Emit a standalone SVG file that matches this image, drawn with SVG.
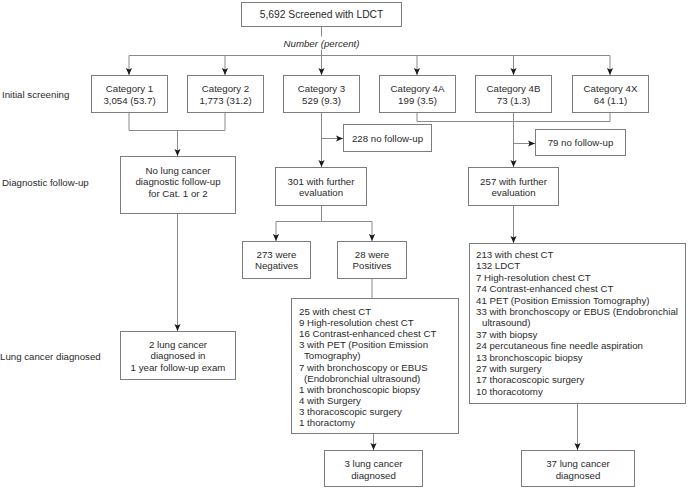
<svg xmlns="http://www.w3.org/2000/svg" width="688" height="488" viewBox="0 0 688 488">
<defs>
<marker id="ah" viewBox="0 0 8 8" refX="8" refY="4" markerWidth="7" markerHeight="7" orient="auto" markerUnits="userSpaceOnUse">
<path d="M0,0.5 L8,4 L0,7.5 L1.8,4 z" fill="#1a1a1a"/>
</marker>
<style>
rect{fill:#fff;stroke:#7d7d7d;stroke-width:1}
text{font-family:"Liberation Sans",Arial,Helvetica,sans-serif;font-size:9.7px;fill:#2a2a2a}
.c{text-anchor:middle}
.i{font-style:italic}
.t{font-size:10.3px}
#connectors path{fill:none;stroke:#8a8a8a;stroke-width:1}
.a{marker-end:url(#ah)}
</style>
</defs>
<rect x="0" y="0" width="688" height="488" style="fill:#fff;stroke:none"/>

<g id="labels">
<text x="2" y="97.5">Initial screening</text>
<text x="2" y="185.5">Diagnostic follow-up</text>
<text x="0" y="359.5">Lung cancer diagnosed</text>
<text class="c i" x="321.5" y="46.5">Number (percent)</text>
</g>

<g id="connectors">
<path d="M321.5,26 V36.5"/>
<path d="M321.5,49.5 V55.5"/>
<path d="M129,55.5 H610"/>
<path class="a" d="M129,55.5 V75"/>
<path class="a" d="M225,55.5 V75"/>
<path class="a" d="M321.5,55.5 V75"/>
<path class="a" d="M417,55.5 V75"/>
<path class="a" d="M513.5,55.5 V75"/>
<path class="a" d="M610,55.5 V75"/>
<path d="M129,112 V130.5 H225 V112"/>
<path class="a" d="M177.5,130.5 V156"/>
<path class="a" d="M321.5,112 V167"/>
<path class="a" d="M321.5,138.5 H343"/>
<path d="M417,112 V121.5 H610 V112"/>
<path class="a" d="M513.5,112 V167"/>
<path class="a" d="M513.5,143.5 H535"/>
<path class="a" d="M177.5,213 V331"/>
<path d="M321.5,205 V221.5"/>
<path class="a" d="M321.5,221.5 H276 V241"/>
<path class="a" d="M321.5,221.5 H372 V241"/>
<path d="M372,278 V298"/>
<path class="a" d="M373.5,433 V450"/>
<path class="a" d="M513.5,205 V243"/>
<path class="a" d="M577.5,403 V450"/>
</g>

<g id="n-top"><rect x="241.5" y="2.5" width="160" height="24"/><text class="c t" x="321.5" y="18">5,692 Screened with LDCT</text></g>

<g id="n-cat1"><rect x="91.5" y="75.5" width="76" height="37"/><text class="c" x="129.5" y="91.5">Category 1</text><text class="c" x="129.5" y="104">3,054 (53.7)</text></g>
<g id="n-cat2"><rect x="187.5" y="75.5" width="76" height="37"/><text class="c" x="225.5" y="91.5">Category 2</text><text class="c" x="225.5" y="104">1,773 (31.2)</text></g>
<g id="n-cat3"><rect x="283.5" y="75.5" width="76" height="37"/><text class="c" x="321.5" y="91.5">Category 3</text><text class="c" x="321.5" y="104">529 (9.3)</text></g>
<g id="n-cat4a"><rect x="379.5" y="75.5" width="76" height="37"/><text class="c" x="417.5" y="91.5">Category 4A</text><text class="c" x="417.5" y="104">199 (3.5)</text></g>
<g id="n-cat4b"><rect x="475.5" y="75.5" width="76" height="37"/><text class="c" x="513.5" y="91.5">Category 4B</text><text class="c" x="513.5" y="104">73 (1.3)</text></g>
<g id="n-cat4x"><rect x="572.5" y="75.5" width="76" height="37"/><text class="c" x="610.5" y="91.5">Category 4X</text><text class="c" x="610.5" y="104">64 (1.1)</text></g>

<g id="n-nf228"><rect x="343.5" y="124.5" width="88" height="27"/><text class="c" x="387.5" y="141.5">228 no follow-up</text></g>
<g id="n-nf79"><rect x="535.5" y="129.5" width="90" height="26"/><text class="c" x="580.5" y="146">79 no follow-up</text></g>

<g id="n-nolc"><rect x="120.5" y="156.5" width="115" height="57"/><text class="c" x="178" y="173.5">No lung cancer</text><text class="c" x="178" y="185">diagnostic follow-up</text><text class="c" x="178" y="196.5">for Cat. 1 or 2</text></g>
<g id="n-301"><rect x="275.5" y="167.5" width="91" height="38"/><text class="c" x="321" y="185">301 with further</text><text class="c" x="321" y="195.5">evaluation</text></g>
<g id="n-257"><rect x="468.5" y="167.5" width="90" height="38"/><text class="c" x="513.5" y="185">257 with further</text><text class="c" x="513.5" y="195.5">evaluation</text></g>

<g id="n-neg"><rect x="242.5" y="241.5" width="68" height="37"/><text class="c" x="276.5" y="257.5">273 were</text><text class="c" x="276.5" y="268.5">Negatives</text></g>
<g id="n-pos"><rect x="337.5" y="241.5" width="69" height="37"/><text class="c" x="372" y="257.5">28 were</text><text class="c" x="372" y="268.5">Positives</text></g>

<g id="n-pos-detail"><rect x="291.5" y="298.5" width="167" height="135"/>
<text x="299" y="315">25 with chest CT</text>
<text x="299" y="326.1">9 High-resolution chest CT</text>
<text x="299" y="337.2">16 Contrast-enhanced chest CT</text>
<text x="299" y="348.3">3 with PET (Position Emission</text>
<text x="304" y="359.4">Tomography)</text>
<text x="299" y="370.5">7 with bronchoscopy or EBUS</text>
<text x="304" y="381.6">(Endobronchial ultrasound)</text>
<text x="299" y="392.7">1 with bronchoscopic biopsy</text>
<text x="299" y="403.8">4 with Surgery</text>
<text x="299" y="414.9">3 thoracoscopic surgery</text>
<text x="299" y="426">1 thoractomy</text>
</g>

<g id="n-257-detail"><rect x="469.5" y="243.5" width="216" height="160"/>
<text x="476" y="258">213 with chest CT</text>
<text x="476" y="269.4">132 LDCT</text>
<text x="476" y="280.8">7 High-resolution chest CT</text>
<text x="476" y="292.2">74 Contrast-enhanced chest CT</text>
<text x="476" y="303.6">41 PET (Position Emission Tomography)</text>
<text x="476" y="315">33 with bronchoscopy or EBUS (Endobronchial</text>
<text x="482" y="326.4">ultrasound)</text>
<text x="476" y="337.8">37 with biopsy</text>
<text x="476" y="349.2">24 percutaneous fine needle aspiration</text>
<text x="476" y="360.6">13 bronchoscopic biopsy</text>
<text x="476" y="372">27 with surgery</text>
<text x="476" y="383.4">17 thoracoscopic surgery</text>
<text x="476" y="394.8">10 thoracotomy</text>
</g>

<g id="n-lc2"><rect x="120.5" y="331.5" width="115" height="48"/><text class="c" x="178" y="347.5">2 lung cancer</text><text class="c" x="178" y="359">diagnosed in</text><text class="c" x="178" y="370.5">1 year follow-up exam</text></g>
<g id="n-lc3"><rect x="324.5" y="450.5" width="98" height="36"/><text class="c" x="373.5" y="467">3 lung cancer</text><text class="c" x="373.5" y="478.5">diagnosed</text></g>
<g id="n-lc37"><rect x="521.5" y="450.5" width="113" height="36"/><text class="c" x="578" y="467">37 lung cancer</text><text class="c" x="578" y="478.5">diagnosed</text></g>
</svg>
